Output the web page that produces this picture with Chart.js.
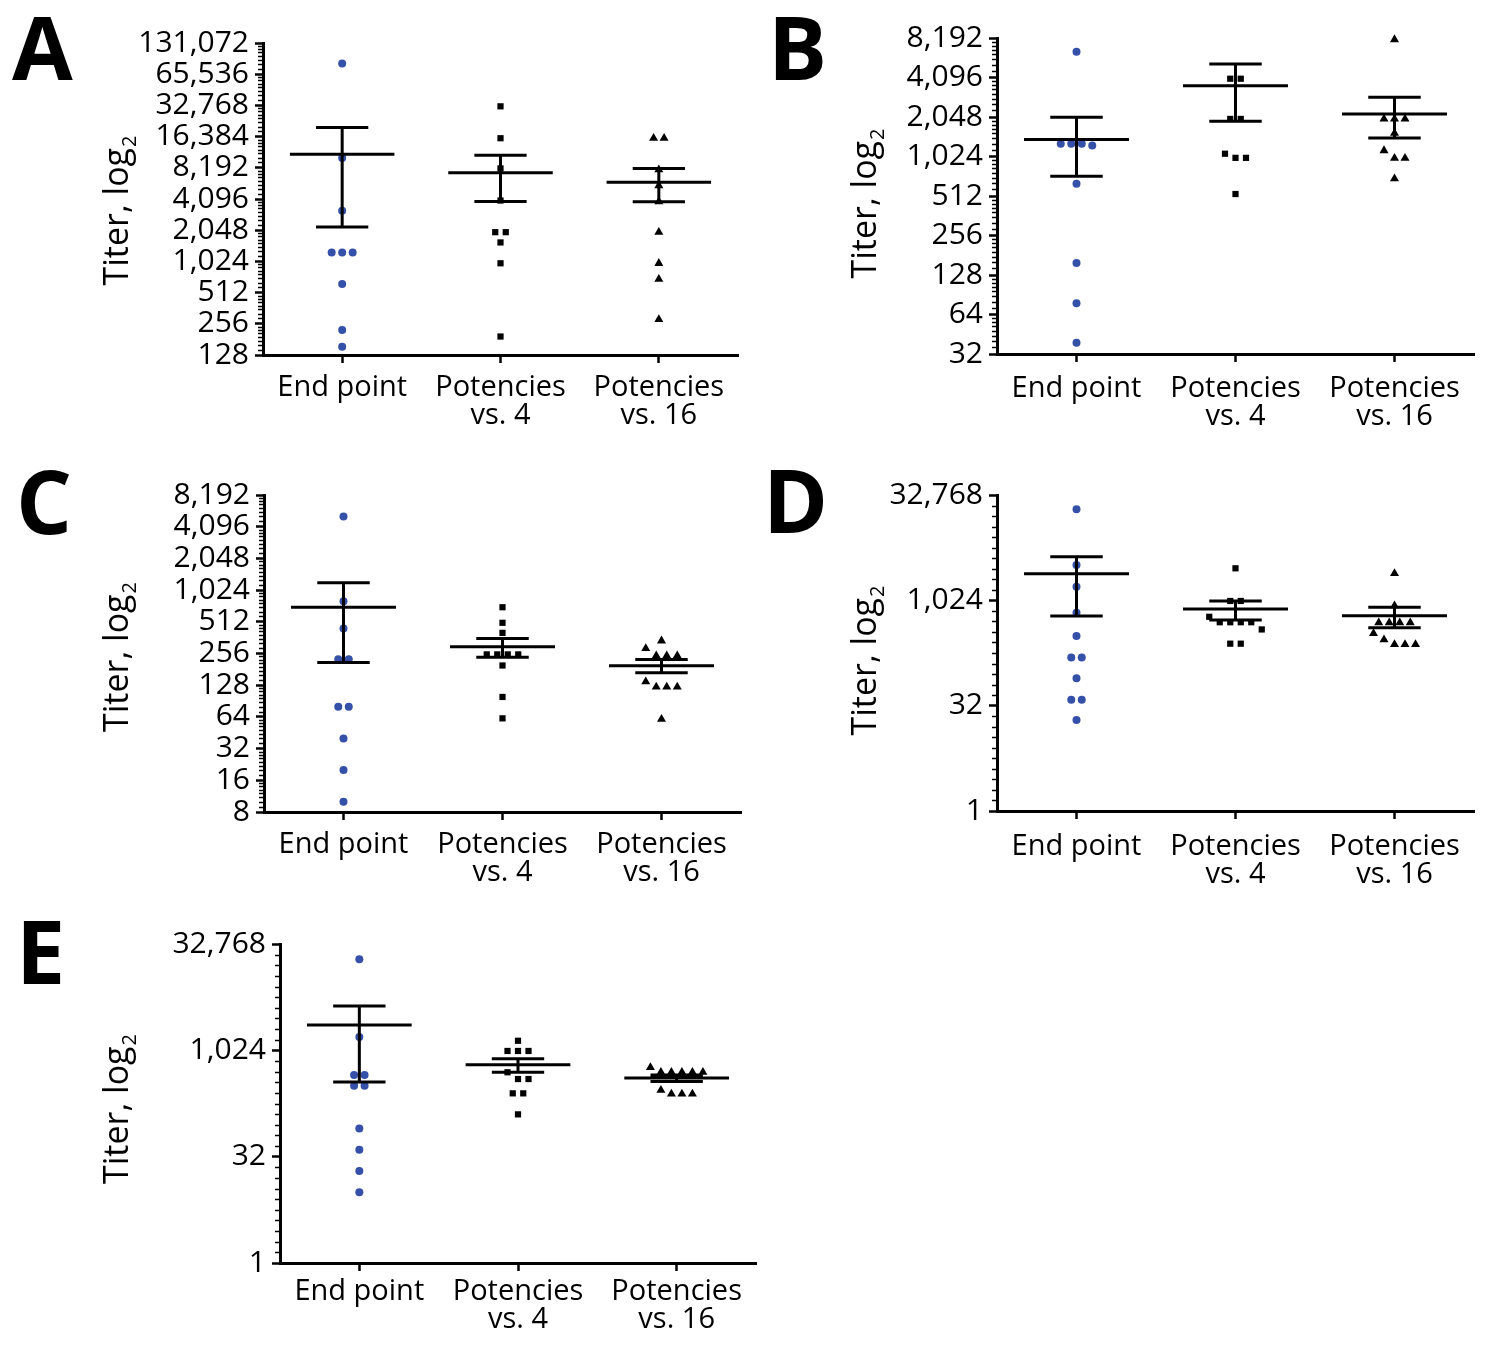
<!DOCTYPE html>
<html>
<head>
<meta charset="utf-8">
<script src="https://cdn.jsdelivr.net/npm/chart.js@4.4.1/dist/chart.umd.min.js"></script>
<style>
  html, body { margin: 0; padding: 0; background: #fff; }
  body { width: 1500px; height: 1346px; position: relative; overflow: hidden; }
  canvas { position: absolute; left: 0; top: 0; }
</style>
</head>
<body>
<canvas id="pA" width="1500" height="1346"></canvas>
<canvas id="pB" width="1500" height="1346"></canvas>
<canvas id="pC" width="1500" height="1346"></canvas>
<canvas id="pD" width="1500" height="1346"></canvas>
<canvas id="pE" width="1500" height="1346"></canvas>
<script>
// x categories
const categories = ['End point', ['Potencies', 'vs. 4'], ['Potencies', 'vs. 16']];

// titers, one array per column
const endA  = [83000, 10200, 3150, 1250, 1250, 1250, 620, 223, 154];
const vs4A  = [32100, 15800, 8080, 3960, 1960, 1960, 1560, 982, 193];
const vs16A = [15800, 15800, 7860, 5520, 3870, 1960, 982, 690, 282];
const meanA = [11100, 7340, 5950];
const semA  = [8900, 3460, 2100];

const endB  = [6430, 1280, 1280, 1280, 1240, 635, 158, 78, 39];
const vs4B  = [4010, 4010, 1980, 1980, 1000, 1000, 1075, 530];
const vs16B = [7970, 1980, 1980, 1980, 1541, 1137, 996, 996, 695];
const meanB = [1380, 3540, 2157];
const semB  = [655, 1640, 739];

const endC  = [5113, 803, 443, 226, 226, 80, 80, 40, 20, 10];
const vs4C  = [704, 501, 402, 251, 251, 251, 251, 197, 99, 62];
const vs16C = [338, 286, 244, 244, 244, 138, 123, 123, 123, 61];
const meanC = [705, 296, 196];
const semC  = [495, 60, 28];

const endD  = [20450, 3281, 1607, 680, 317, 156, 156, 79, 39, 39, 20];
const vs4D  = [2936, 1003, 1003, 596, 498, 498, 498, 498, 393, 246, 246];
const vs16D = [2487, 861, 491, 491, 491, 491, 345, 280, 240, 240, 240];
const meanD = [2456, 770, 615];
const semD  = [1843, 233, 200];

const endE  = [19900, 1585, 458, 458, 324, 324, 80, 40, 20, 10];
const vs4E  = [1399, 1003, 1003, 1003, 501, 402, 402, 252, 252, 127];
const vs16E = [588, 501, 501, 501, 501, 501, 280, 247, 247, 247];
const meanE = [2347, 641, 416];
const semE  = [1983, 140, 44];

const BLUE = '#3550a8';
const FONT = '"Open Sans", "DejaVu Sans", sans-serif';

const panels = [
  { id: 'pA', letter: 'A', lx: 12, ly: 80, titleX: 128, titleDy: 12, labelPad: 11, end: endA, vs4: vs4A, vs16: vs16A, mean: meanA, sem: semA,
    left: 263, right: 738, top: 43, bottom: 355, min: 7, max: 17, step: 1, minor: 'fine' },
  { id: 'pB', letter: 'B', lx: 768, ly: 80, titleX: 876, titleDy: 8, labelPad: 13, end: endB, vs4: vs4B, vs16: vs16B, mean: meanB, sem: semB,
    left: 997, right: 1474, top: 38, bottom: 354, min: 5, max: 13, step: 1, minor: 'fine' },
  { id: 'pC', letter: 'C', lx: 16, ly: 534, titleX: 128, titleDy: 4, labelPad: 11, end: endC, vs4: vs4C, vs16: vs16C, mean: meanC, sem: semC,
    left: 264, right: 741, top: 495, bottom: 812, min: 3, max: 13, step: 1, minor: 'fine' },
  { id: 'pD', letter: 'D', lx: 763, ly: 533, titleX: 876, titleDy: 8, labelPad: 14, end: endD, vs4: vs4D, vs16: vs16D, mean: meanD, sem: semD,
    left: 997, right: 1474, top: 495, bottom: 811, min: 0, max: 15, step: 5, minor: 'half' },
  { id: 'pE', letter: 'E', lx: 16, ly: 984, titleX: 128, titleDy: 6, labelPad: 7, end: endE, vs4: vs4E, vs16: vs16E, mean: meanE, sem: semE,
    left: 280, right: 756, top: 944, bottom: 1263, min: 0, max: 15, step: 5, minor: 'half' }
];

// spread points that sit on top of each other sideways, like a column scatter
function spread(values, col, thr, step) {
  const logs = values.map(v => Math.log2(v));
  const order = logs.map((v, i) => i).sort((a, b) => logs[b] - logs[a]);
  const groups = [];
  order.forEach(i => {
    const g = groups[groups.length - 1];
    if (g && logs[g[g.length - 1]] - logs[i] < thr) g.push(i);
    else groups.push([i]);
  });
  const pts = [];
  groups.forEach(g => {
    g.forEach((i, k) => pts.push({ x: col + (k - (g.length - 1) / 2) * step, y: logs[i] }));
  });
  return pts;
}

function minorTicks(p) {
  const out = [];
  for (let n = p.min; n < p.max; n++) {
    if (p.minor === 'fine') {
      for (let k = 1; k < 8; k++) out.push(n + Math.log2(1 + k / 8));
    } else {
      out.push(n + 0.5);
      if ((n + 1) % 5 !== 0) out.push(n + 1);
    }
  }
  return out;
}

function build(p) {
  const ppu = (p.bottom - p.top) / (p.max - p.min);
  const colW = (p.right - p.left) / 3;
  const thr = 7.6 / ppu;
  const step = 10.5 / colW;

  const lines = [];
  p.mean.forEach((m, i) => {
    const c = i + 1;
    const y = Math.log2(m), lo = Math.log2(m - p.sem[i]), hi = Math.log2(m + p.sem[i]);
    lines.push(
      { x: c - 0.33, y: y }, { x: c + 0.33, y: y }, { x: c, y: null },
      { x: c, y: lo }, { x: c, y: hi }, { x: c, y: null },
      { x: c - 0.165, y: lo }, { x: c + 0.165, y: lo }, { x: c, y: null },
      { x: c - 0.165, y: hi }, { x: c + 0.165, y: hi }, { x: c, y: null }
    );
  });

  const datasets = [
    { data: lines, showLine: true, borderColor: '#000', borderWidth: 3, pointRadius: 0, spanGaps: false, clip: false },
    { data: spread(p.end, 1, thr, step), pointStyle: 'circle', pointRadius: 4, backgroundColor: BLUE, borderColor: BLUE, borderWidth: 0, clip: false },
    { data: spread(p.vs4, 2, thr, step), pointStyle: 'rect', pointRadius: 4.4, backgroundColor: '#000', borderColor: '#000', borderWidth: 0, clip: false },
    { data: spread(p.vs16, 3, thr, step), pointStyle: 'triangle', pointRadius: 5.2, backgroundColor: '#000', borderColor: '#000', borderWidth: 0, clip: false }
  ];

  const decor = {
    id: 'decor' + p.letter,
    afterDraw(chart) {
      const ctx = chart.ctx, ys = chart.scales.y, area = chart.chartArea;
      ctx.save();
      // minor ticks
      ctx.strokeStyle = '#000';
      ctx.lineWidth = 1.3;
      ctx.beginPath();
      minorTicks(p).forEach(v => {
        const py = Math.round(ys.getPixelForValue(v)) + 0.5;
        ctx.moveTo(area.left - 5, py);
        ctx.lineTo(area.left, py);
      });
      ctx.stroke();
      // panel letter
      ctx.fillStyle = '#000';
      ctx.font = 'bold 88px ' + FONT;
      ctx.textAlign = 'left';
      ctx.textBaseline = 'alphabetic';
      ctx.fillText(p.letter, p.lx, p.ly);
      // axis title with subscript
      ctx.translate(p.titleX, (area.top + area.bottom) / 2 + p.titleDy);
      ctx.rotate(-Math.PI / 2);
      ctx.font = '34px ' + FONT;
      const main = 'Titer, log';
      const w1 = ctx.measureText(main).width;
      ctx.font = '20px ' + FONT;
      const w2 = ctx.measureText('2').width;
      const x0 = -(w1 + w2) / 2;
      ctx.font = '34px ' + FONT;
      ctx.fillText(main, x0, 0);
      ctx.font = '20px ' + FONT;
      ctx.fillText('2', x0 + w1 + 1, 8);
      ctx.restore();
    }
  };

  new Chart(document.getElementById(p.id), {
    type: 'scatter',
    data: { datasets: datasets },
    options: {
      responsive: false,
      devicePixelRatio: 1,
      animation: false,
      events: [],
      layout: { padding: { left: 0, top: p.top, right: 1500 - p.right, bottom: 0 } },
      plugins: { legend: { display: false }, tooltip: { enabled: false } },
      scales: {
        x: {
          type: 'linear',
          min: 0.5,
          max: 3.5,
          afterFit: s => { s.height = 1346 - p.bottom; },
          afterBuildTicks: s => { s.ticks = [1, 2, 3].map(v => ({ value: v })); },
          ticks: {
            autoSkip: false,
            maxRotation: 0,
            padding: p.labelPad,
            color: '#000',
            font: { family: FONT, size: 29, lineHeight: 0.97 },
            callback: v => categories[v - 1]
          },
          grid: { drawOnChartArea: false, drawTicks: true, tickLength: 8, tickWidth: 2.5, tickColor: '#000' },
          border: { color: '#000', width: 3 }
        },
        y: {
          type: 'linear',
          min: p.min,
          max: p.max,
          afterFit: s => { s.width = p.left; },
          ticks: {
            stepSize: p.step,
            autoSkip: false,
            padding: 6,
            color: '#000',
            font: { family: FONT, size: 30 },
            callback: v => (2 ** v).toLocaleString('en-US')
          },
          grid: { drawOnChartArea: false, drawTicks: true, tickLength: 8, tickWidth: 2.5, tickColor: '#000' },
          border: { color: '#000', width: 3 }
        }
      }
    },
    plugins: [decor]
  });
}

panels.forEach(build);
</script>
</body>
</html>
